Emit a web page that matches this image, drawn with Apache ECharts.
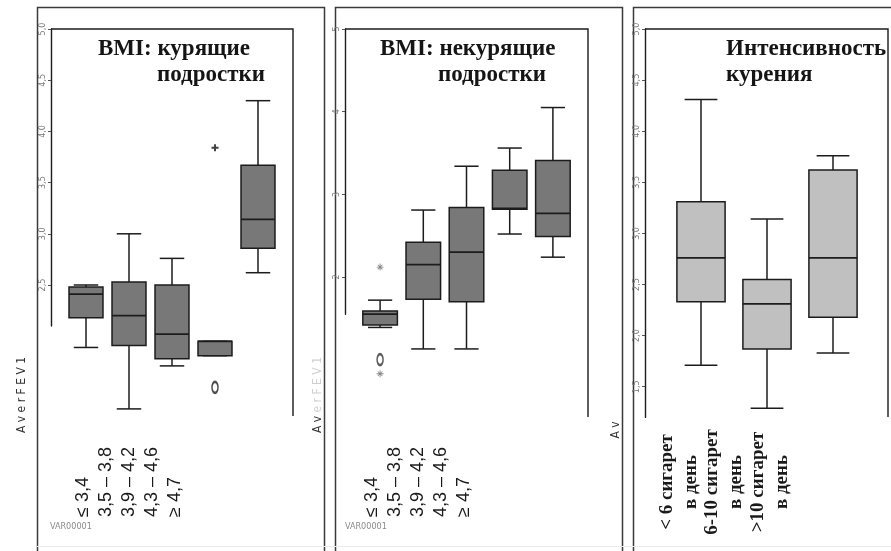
<!DOCTYPE html>
<html><head><meta charset="utf-8">
<script src="https://cdn.jsdelivr.net/npm/echarts@6/dist/echarts.min.js"></script>
<style>html,body{margin:0;padding:0;background:#fff}#c{width:891px;height:551px}</style>
</head><body><div id="c"></div>
<script>
// ---------- data ----------
const bmiCategories = ['≤ 3,4', '3,5 – 3,8', '3,9 – 4,2', '4,3 – 4,6', '≥ 4,7'];
const intensityCategories = ['< 6 сигарет\nв день', '6-10 сигарет\nв день', '>10 сигарет\nв день'];

// [min, Q1, median, Q3, max]
const smokersBox = [
  [1.89, 2.18, 2.41, 2.48, 2.50],
  [1.29, 1.91, 2.20, 2.53, 3.00],
  [1.71, 1.78, 2.02, 2.50, 2.76],
  [1.81, 1.81, 1.95, 1.95, 1.95],
  [2.62, 2.86, 3.14, 3.67, 4.30]
];
const smokersPlusOutliers = [[3, 3.84]];
const smokersCircleOutliers = [[3, 1.50]];

const nonSmokersBox = [
  [1.39, 1.42, 1.55, 1.59, 1.72],
  [1.13, 1.73, 2.15, 2.42, 2.81],
  [1.13, 1.70, 2.30, 2.84, 3.34],
  [2.52, 2.82, 2.83, 3.29, 3.56],
  [2.24, 2.49, 2.77, 3.41, 4.05]
];
const nonSmokersStarOutliers = [[0, 2.12], [0, 0.83]];
const nonSmokersCircleOutliers = [[0, 1.00]];

const intensityBox = [
  [1.71, 2.33, 2.76, 3.31, 4.31],
  [1.29, 1.87, 2.31, 2.55, 3.14],
  [1.83, 2.18, 2.76, 3.62, 3.76]
];

const ticksSmokers = [2.5, 3.0, 3.5, 4.0, 4.5, 5.0];
const ticksNonSmokers = [2, 3, 4, 5];
const ticksIntensity = [1.5, 2.0, 2.5, 3.0, 3.5, 4.0, 4.5, 5.0];

const titles = [['BMI: курящие', 'подростки'], ['BMI: некурящие', 'подростки'], ['Интенсивность', 'курения']];
const yAxisName = 'A v e r F E V 1';
const varName = 'VAR00001';

// ---------- helpers ----------
const DARK = '#1c1c1c';
function boxRender(widthRatio, capRatio, fill) {
  return function (params, api) {
    const idx = api.value(0);
    const band = api.size([1, 0])[0];
    const bw = band * widthRatio, cw = bw * capRatio;
    const xc = api.coord([idx, api.value(3)])[0];
    const y = k => api.coord([idx, api.value(k)])[1];
    const yLow = y(1), yQ1 = y(2), yMed = y(3), yQ3 = y(4), yHigh = y(5);
    const ls = { stroke: DARK, lineWidth: 1.5 };
    return {
      type: 'group', children: [
        { type: 'line', shape: { x1: xc, y1: yHigh, x2: xc, y2: yQ3 }, style: ls },
        { type: 'line', shape: { x1: xc, y1: yQ1, x2: xc, y2: yLow }, style: ls },
        { type: 'line', shape: { x1: xc - cw / 2, y1: yHigh, x2: xc + cw / 2, y2: yHigh }, style: ls },
        { type: 'line', shape: { x1: xc - cw / 2, y1: yLow, x2: xc + cw / 2, y2: yLow }, style: ls },
        { type: 'rect', shape: { x: xc - bw / 2, y: yQ3, width: bw, height: yQ1 - yQ3 }, style: { fill: fill, stroke: DARK, lineWidth: 1.5 } },
        { type: 'line', shape: { x1: xc - bw / 2, y1: yMed, x2: xc + bw / 2, y2: yMed }, style: { stroke: DARK, lineWidth: 1.8 } }
      ]
    };
  };
}
const toRows = arr => arr.map((d, i) => [i].concat(d));
const commaFmt = v => Number(v).toFixed(1).replace('.', ',');

function grid(left, top, width, height) {
  return { left, top, width, height, containLabel: false, outerBoundsMode: 'none' };
}
function hiddenCat(gi, data) { return { type: 'category', gridIndex: gi, data, show: false, boundaryGap: true }; }
function hiddenVal(gi, min, max) { return { type: 'value', gridIndex: gi, min, max, show: false }; }
function visibleY(gi, min, max, ticks, fmt) {
  return {
    type: 'value', gridIndex: gi, min, max,
    axisLine: { show: true, lineStyle: { color: DARK, width: 1.4 } },
    axisTick: { show: true, inside: false, length: 3, customValues: ticks, lineStyle: { color: '#555', width: 1 } },
    axisLabel: { customValues: ticks, formatter: fmt, rotate: 90, margin: 4, fontSize: 9,
      fontFamily: 'DejaVu Sans Condensed', color: '#7a7a7a' },
    splitLine: { show: false }
  };
}
function labelAxisBmi(gi) {
  return {
    type: 'category', gridIndex: gi, data: bmiCategories, position: 'bottom',
    axisLine: { show: false }, axisTick: { show: false },
    axisLabel: { interval: 0, rotate: 90, margin: 0, align: 'left', verticalAlign: 'middle',
      fontSize: 18, fontFamily: 'Liberation Sans', color: '#1a1a1a' }
  };
}

const plusPath = 'path://M3.6,0H6.4V3.6H10V6.4H6.4V10H3.6V6.4H0V3.6H3.6Z';
const starPath = 'path://M4.4,0H5.6V10H4.4Z M0,4.4H10V5.6H0Z M1.3,2.1L2.1,1.3L8.7,7.9L7.9,8.7Z M7.9,1.3L8.7,2.1L2.1,8.7L1.3,7.9Z';

const chart = echarts.init(document.getElementById('c'), null, { renderer: 'canvas' });

const option = {
  backgroundColor: '#ffffff',
  animation: false,
  grid: [
    grid(64.5, 29, 215, 409.6),   // 0 p1 data
    grid(51, 29, 10, 297),        // 1 p1 axis
    grid(71.5, 450, 115, 67),     // 2 p1 labels
    grid(358.5, 29, 216, 413.35), // 3 p2 data
    grid(345, 29, 10, 285.2),     // 4 p2 axis
    grid(360.5, 450, 115, 67),    // 5 p2 labels
    grid(668, 29, 198, 408.8),    // 6 p3 data
    grid(645, 29, 10, 388.4),     // 7 p3 axis
    grid(656.25, 400, 136.5, 72)  // 8 p3 labels
  ],
  xAxis: [
    hiddenCat(0, bmiCategories),
    { type: 'value', gridIndex: 1, show: false },
    labelAxisBmi(2),
    hiddenCat(3, bmiCategories),
    { type: 'value', gridIndex: 4, show: false },
    labelAxisBmi(5),
    hiddenCat(6, intensityCategories),
    { type: 'value', gridIndex: 7, show: false },
    {
      type: 'category', gridIndex: 8, data: intensityCategories, position: 'bottom',
      axisLine: { show: false }, axisTick: { show: false },
      axisLabel: { interval: 0, rotate: 90, margin: 10, align: 'center', verticalAlign: 'middle',
        fontSize: 19, lineHeight: 24, fontWeight: 'bold', fontFamily: 'Liberation Serif', color: '#1a1a1a' }
    }
  ],
  yAxis: [
    hiddenVal(0, 1, 5),
    visibleY(1, 2.1, 5, ticksSmokers, commaFmt),
    hiddenVal(2, 0, 1),
    hiddenVal(3, 0, 5),
    visibleY(4, 1.55, 5, ticksNonSmokers, v => String(Math.round(v))),
    hiddenVal(5, 0, 1),
    hiddenVal(6, 1, 5),
    visibleY(7, 1.2, 5, ticksIntensity, commaFmt),
    hiddenVal(8, 0, 1)
  ],
  series: [
    { type: 'custom', xAxisIndex: 0, yAxisIndex: 0, renderItem: boxRender(0.79, 0.72, '#787878'),
      encode: { x: 0, y: [1, 2, 3, 4, 5] }, data: toRows(smokersBox), silent: true },
    { type: 'scatter', xAxisIndex: 0, yAxisIndex: 0, symbol: plusPath, symbolSize: 7,
      itemStyle: { color: '#111' }, data: smokersPlusOutliers, silent: true },
    { type: 'scatter', xAxisIndex: 0, yAxisIndex: 0, symbol: 'emptyCircle', symbolSize: [6, 11],
      itemStyle: { color: '#222', borderColor: '#222', borderWidth: 1.3 }, data: smokersCircleOutliers, silent: true },

    { type: 'custom', xAxisIndex: 3, yAxisIndex: 3, renderItem: boxRender(0.8, 0.7, '#787878'),
      encode: { x: 0, y: [1, 2, 3, 4, 5] }, data: toRows(nonSmokersBox), silent: true },
    { type: 'scatter', xAxisIndex: 3, yAxisIndex: 3, symbol: starPath, symbolSize: 7,
      itemStyle: { color: '#666' }, data: nonSmokersStarOutliers, silent: true },
    { type: 'scatter', xAxisIndex: 3, yAxisIndex: 3, symbol: 'emptyCircle', symbolSize: [6, 11],
      itemStyle: { color: '#333', borderColor: '#333', borderWidth: 1.2 }, data: nonSmokersCircleOutliers, silent: true },

    { type: 'custom', xAxisIndex: 6, yAxisIndex: 6, renderItem: boxRender(0.73, 0.68, '#c0c0c0'),
      encode: { x: 0, y: [1, 2, 3, 4, 5] }, data: toRows(intensityBox), silent: true }
  ],
  graphic: [
    // outer frames
    { type: 'polyline', shape: { points: [[37.5, 551], [37.5, 7.5], [324.5, 7.5], [324.5, 551]] }, style: { stroke: '#3a3a3a', lineWidth: 1.5, fill: null } },
    { type: 'polyline', shape: { points: [[335.5, 551], [335.5, 7.5], [622.5, 7.5], [622.5, 551]] }, style: { stroke: '#3a3a3a', lineWidth: 1.5, fill: null } },
    { type: 'polyline', shape: { points: [[633.5, 551], [633.5, 7.5], [891, 7.5]] }, style: { stroke: '#3a3a3a', lineWidth: 1.5, fill: null } },
    { type: 'line', shape: { x1: 37, y1: 546.5, x2: 891, y2: 546.5 }, style: { stroke: '#ececec', lineWidth: 1 } },
    // inner frames (top and right)
    { type: 'polyline', shape: { points: [[51, 29], [293, 29], [293, 416]] }, style: { stroke: DARK, lineWidth: 1.4, fill: null } },
    { type: 'polyline', shape: { points: [[345, 29], [588, 29], [588, 417]] }, style: { stroke: DARK, lineWidth: 1.4, fill: null } },
    { type: 'polyline', shape: { points: [[645, 29], [888, 29], [888, 417]] }, style: { stroke: DARK, lineWidth: 1.4, fill: null } },
    // titles
    { type: 'text', x: 98, y: 49, style: { text: titles[0][0], font: 'bold 23px "Liberation Serif"', fill: '#151515', align: 'left', verticalAlign: 'middle' } },
    { type: 'text', x: 157, y: 75, style: { text: titles[0][1], font: 'bold 23px "Liberation Serif"', fill: '#151515', align: 'left', verticalAlign: 'middle' } },
    { type: 'text', x: 380, y: 49, style: { text: titles[1][0], font: 'bold 23px "Liberation Serif"', fill: '#151515', align: 'left', verticalAlign: 'middle' } },
    { type: 'text', x: 438, y: 75, style: { text: titles[1][1], font: 'bold 23px "Liberation Serif"', fill: '#151515', align: 'left', verticalAlign: 'middle' } },
    { type: 'text', x: 726, y: 49, style: { text: titles[2][0], font: 'bold 23px "Liberation Serif"', fill: '#151515', align: 'left', verticalAlign: 'middle' } },
    { type: 'text', x: 726, y: 75, style: { text: titles[2][1], font: 'bold 23px "Liberation Serif"', fill: '#151515', align: 'left', verticalAlign: 'middle' } },
    // y axis names
    { type: 'text', x: 22, y: 395, rotation: Math.PI / 2, style: { text: yAxisName, font: '12px "DejaVu Sans Condensed"', fill: '#333', align: 'center', verticalAlign: 'middle' } },
    { type: 'text', x: 318, y: 395, rotation: Math.PI / 2, style: {
        text: '{a|' + yAxisName.slice(0, 3) + '} {b|' + yAxisName.slice(4) + '}', align: 'center', verticalAlign: 'middle',
        rich: { a: { font: '12px "DejaVu Sans Condensed"', fill: '#333' }, b: { font: '12px "DejaVu Sans Condensed"', fill: '#d0d0d0' } } } },
    { type: 'text', x: 616, y: 430, rotation: Math.PI / 2, style: { text: yAxisName.slice(0, 3), font: '12px "DejaVu Sans Condensed"', fill: '#333', align: 'center', verticalAlign: 'middle' } },
    // VAR00001
    { type: 'text', x: 50, y: 527, style: { text: varName, font: '9px "DejaVu Sans Condensed"', fill: '#8a8a8a', align: 'left', verticalAlign: 'middle' } },
    { type: 'text', x: 345, y: 527, style: { text: varName, font: '9px "DejaVu Sans Condensed"', fill: '#8a8a8a', align: 'left', verticalAlign: 'middle' } }
  ]
};
chart.setOption(option);
</script>
</body></html>
